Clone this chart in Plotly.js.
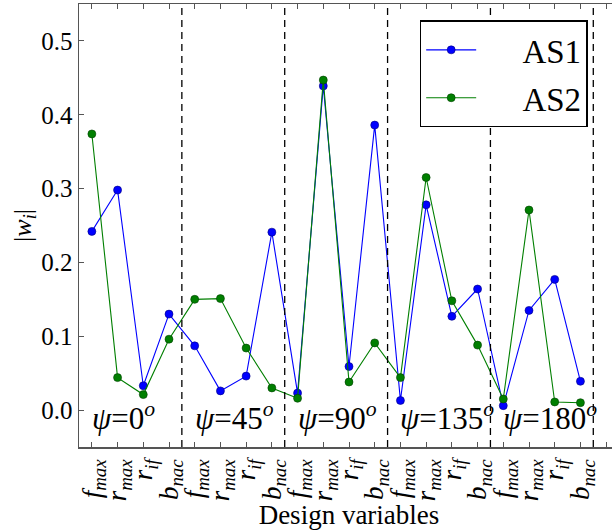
<!DOCTYPE html>
<html>
<head>
<meta charset="utf-8">
<script src="https://cdn.plot.ly/plotly-3.0.1.min.js"></script>
<style>
html, body { margin:0; padding:0; overflow:hidden; background:#fff; }
#chart { width:640px; height:530px; }
</style>
</head>
<body>
<div id="chart"></div>
<script>
// Design variables per angle group
const variables = ['<i>f</i><sub><i>max</i></sub>', '<i>r</i><sub><i>max</i></sub>', '<i>r</i><sub><i>if</i></sub>', '<i>b</i><sub><i>nac</i></sub>'];
const angles = [0, 45, 90, 135, 180];
const seriesNames = ['AS1', 'AS2'];

// |w_i| values (20 points: 5 angles x 4 variables)
const as1 = [0.242, 0.298, 0.033, 0.130,
             0.087, 0.026, 0.046, 0.241,
             0.023, 0.439, 0.059, 0.386,
             0.013, 0.278, 0.127, 0.164,
             0.006, 0.135, 0.177, 0.039];
const as2 = [0.374, 0.044, 0.021, 0.096,
             0.150, 0.151, 0.084, 0.030,
             0.016, 0.447, 0.038, 0.091,
             0.044, 0.315, 0.148, 0.088,
             0.015, 0.271, 0.011, 0.010];

const nVar = variables.length;
const idx = as1.map((_, i) => i);
const tickvals = [];
const ticktext = [];
for (let i = 0; i <= idx.length; i++) {
  tickvals.push(i);
  ticktext.push(i < idx.length ? variables[i % nVar] : '');
}

const blue = '#0000ff';
const green = '#007f00';
const pad = '\u00a0\u00a0\u00a0\u00a0\u00a0';

const traces = [
  { x: idx, y: as1, name: pad + seriesNames[0], legendgroup: 'a', type: 'scatter', mode: 'lines+markers',
    line: { color: blue, width: 1.1 },
    marker: { color: blue, size: 8, line: { color: '#00007f', width: 0.6 } } },
  { x: idx, y: as2, name: pad + seriesNames[1], legendgroup: 'b', type: 'scatter', mode: 'lines+markers',
    line: { color: green, width: 1.1 },
    marker: { color: green, size: 8, line: { color: '#004000', width: 0.6 } } }
];

// dashed separators between angle groups, and angle labels
const shapes = [];
const annotations = [];
angles.forEach((a, g) => {
  const sep = g * nVar + nVar - 0.5;
  shapes.push({ type: 'line', xref: 'x', yref: 'paper', x0: sep, x1: sep, y0: 0, y1: 1,
                line: { color: '#000', width: 1.3, dash: '7px,5px' } });
  annotations.push({ xref: 'x', yref: 'y', x: g * nVar - 0.08, y: -0.009,
                     xanchor: 'left', yanchor: 'middle', showarrow: false,
                     text: '<i>ψ</i>=' + a + '<sup><i>o</i></sup>',
                     font: { family: 'Liberation Serif, serif', size: 31, color: '#000' } });
});

const serif = 'Liberation Serif, DejaVu Serif, serif';
const layout = {
  width: 640, height: 530,
  margin: { l: 79, r: 21, t: 4, b: 83 },
  paper_bgcolor: '#fff', plot_bgcolor: '#fff',
  font: { family: serif, color: '#000' },
  showlegend: true,
  legend: { x: 0.942, y: 0.963, xanchor: 'right', yanchor: 'top',
            traceorder: 'grouped', tracegroupgap: 2,
            bgcolor: '#fff', bordercolor: '#000', borderwidth: 1.5,
            font: { family: serif, size: 33, color: '#000' }, itemwidth: 50 },
  xaxis: {
    range: [-0.5, 20.5], tickmode: 'array', tickvals: tickvals, ticktext: ticktext,
    tickangle: -90, ticks: 'inside', ticklen: 5, tickcolor: '#555',
    showline: true, linecolor: '#555', linewidth: 1.5, mirror: 'ticks',
    showgrid: false, zeroline: false,
    tickfont: { family: serif, size: 27, color: '#000' },
    title: { text: 'Design variables', font: { family: serif, size: 27, color: '#000' }, standoff: 0 }
  },
  yaxis: {
    range: [-0.05, 0.55], tickvals: [0, 0.1, 0.2, 0.3, 0.4, 0.5], tickformat: '.1f',
    ticks: 'inside', ticklen: 5, tickcolor: '#555',
    showline: true, linecolor: '#555', linewidth: 1.5, mirror: 'ticks',
    showgrid: false, zeroline: false,
    tickfont: { family: serif, size: 25, color: '#000' },
    title: { text: '|<i>w</i><sub><i>i</i></sub>|', font: { family: serif, size: 26, color: '#000' }, standoff: 2 }
  },
  shapes: shapes,
  annotations: annotations
};

Plotly.newPlot('chart', traces, layout, { displayModeBar: false, staticPlot: true });
</script>
</body>
</html>
